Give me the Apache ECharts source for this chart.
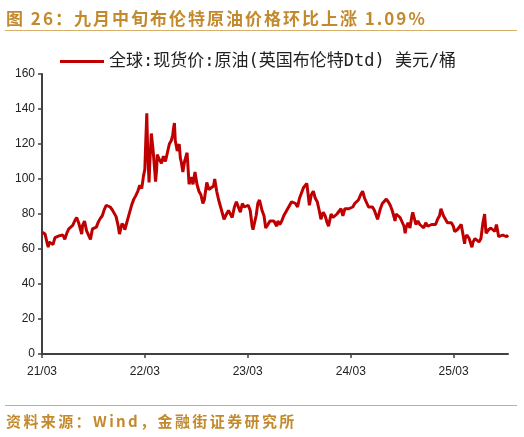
<!DOCTYPE html>
<html>
<head>
    <meta charset="utf-8">
    <title>布伦特原油价格</title>
    <script src="https://cdn.jsdelivr.net/npm/echarts@6/dist/echarts.min.js"></script>
    <style>
        html, body { margin: 0; padding: 0; background: #fff; }
        #wrap { position: relative; width: 524px; height: 437px; overflow: hidden; }
        #title {
            position: absolute; left: 6px; top: 5px;
            font: bold 17px "Noto Sans CJK SC", sans-serif; letter-spacing: 2px;
            color: #c28a2c; white-space: nowrap;
        }
        #source {
            position: absolute; left: 6px; top: 410px;
            font: bold 15px "Noto Sans CJK SC", sans-serif; letter-spacing: 2.4px;
            color: #c28a2c; white-space: nowrap;
        }
        .rule { position: absolute; left: 5px; width: 512px; height: 0; border-top: 1.5px solid #d6b06a; }
        #chart { position: absolute; left: 0; top: 0; width: 524px; height: 437px; }
    </style>
</head>
<body>
<div id="wrap">
    <div id="chart"></div>
    <div id="title">图 26：九月中旬布伦特原油价格环比上涨 1.09%</div>
    <div class="rule" style="top:30px"></div>
    <div class="rule" style="top:405px"></div>
    <div id="source">资料来源：Wind，金融街证券研究所</div>
</div>
<script type="text/javascript">
    // 布伦特Dtd现货价（美元/桶），按周读取
    var seriesName = '全球:现货价:原油(英国布伦特Dtd) 美元/桶';
    var dates = [
        '2021-03-02','2021-03-08','2021-03-12','2021-03-19','2021-03-23','2021-03-26','2021-04-02','2021-04-09','2021-04-16','2021-04-23','2021-04-30',
        '2021-05-07','2021-05-14','2021-05-21','2021-05-28','2021-06-04','2021-06-11','2021-06-18','2021-06-25','2021-07-02','2021-07-09','2021-07-16',
        '2021-07-20','2021-07-23','2021-07-30','2021-08-06','2021-08-13','2021-08-20','2021-08-27','2021-09-03','2021-09-10','2021-09-17','2021-09-24',
        '2021-10-01','2021-10-08','2021-10-15','2021-10-22','2021-10-29','2021-11-05','2021-11-12','2021-11-19','2021-11-26','2021-12-01','2021-12-10',
        '2021-12-17','2021-12-20','2021-12-31','2022-01-07','2022-01-14','2022-01-21','2022-01-28','2022-02-04','2022-02-11','2022-02-18','2022-02-24',
        '2022-03-01','2022-03-04','2022-03-08','2022-03-11','2022-03-16','2022-03-18','2022-03-24','2022-03-30','2022-04-06','2022-04-08','2022-04-12',
        '2022-04-14','2022-04-22','2022-04-29','2022-05-06','2022-05-13','2022-05-20','2022-05-27','2022-06-03','2022-06-08','2022-06-10','2022-06-14',
        '2022-06-17','2022-06-24','2022-07-01','2022-07-05','2022-07-08','2022-07-14','2022-07-20','2022-07-29','2022-08-05','2022-08-12','2022-08-19',
        '2022-08-26','2022-09-02','2022-09-09','2022-09-16','2022-09-23','2022-09-28','2022-10-07','2022-10-14','2022-10-21','2022-10-31','2022-11-04',
        '2022-11-11','2022-11-18','2022-11-25','2022-12-07','2022-12-09','2022-12-16','2022-12-23','2022-12-30','2023-01-05','2023-01-13','2023-01-20',
        '2023-01-27','2023-02-03','2023-02-10','2023-02-17','2023-02-24','2023-03-03','2023-03-10','2023-03-17','2023-03-20','2023-03-24','2023-03-31',
        '2023-04-06','2023-04-12','2023-04-21','2023-04-28','2023-05-04','2023-05-12','2023-05-19','2023-05-26','2023-06-02','2023-06-12','2023-06-16',
        '2023-06-23','2023-06-30','2023-07-07','2023-07-14','2023-07-21','2023-07-28','2023-08-04','2023-08-11','2023-08-18','2023-08-25','2023-09-01',
        '2023-09-08','2023-09-15','2023-09-22','2023-09-27','2023-10-06','2023-10-13','2023-10-20','2023-10-27','2023-11-03','2023-11-10','2023-11-16',
        '2023-11-24','2023-12-01','2023-12-08','2023-12-13','2023-12-22','2023-12-29','2024-01-05','2024-01-12','2024-01-19','2024-01-26','2024-02-02',
        '2024-02-09','2024-02-16','2024-02-23','2024-03-01','2024-03-08','2024-03-15','2024-03-22','2024-03-28','2024-04-05','2024-04-12','2024-04-19',
        '2024-04-26','2024-05-03','2024-05-10','2024-05-17','2024-05-24','2024-05-31','2024-06-04','2024-06-14','2024-06-21','2024-06-28','2024-07-05',
        '2024-07-12','2024-07-19','2024-07-26','2024-08-02','2024-08-05','2024-08-09','2024-08-16','2024-08-23','2024-08-30','2024-09-06','2024-09-10',
        '2024-09-13','2024-09-20','2024-09-27','2024-10-04','2024-10-07','2024-10-11','2024-10-18','2024-10-25','2024-11-01','2024-11-08','2024-11-15',
        '2024-11-22','2024-11-29','2024-12-06','2024-12-13','2024-12-20','2024-12-27','2025-01-03','2025-01-10','2025-01-15','2025-01-24','2025-01-31',
        '2025-02-07','2025-02-14','2025-02-21','2025-02-28','2025-03-05','2025-03-14','2025-03-21','2025-03-28','2025-04-02','2025-04-09','2025-04-11',
        '2025-04-17','2025-04-25','2025-05-05','2025-05-09','2025-05-16','2025-05-23','2025-05-30','2025-06-06','2025-06-13','2025-06-19','2025-06-24',
        '2025-06-27','2025-07-03','2025-07-11','2025-07-18','2025-07-25','2025-07-31','2025-08-08','2025-08-15','2025-08-22','2025-08-29','2025-09-05',
        '2025-09-10'
    ];
    var prices = [
        69.5,69.8,68.5,63.5,61.0,64.0,63.0,62.5,66.5,65.5,67.5,
        68.5,68.0,65.5,69.0,71.5,72.5,73.5,76.0,78.0,75.0,74.0,
        68.5,73.5,76.0,70.5,71.0,65.5,71.5,72.5,72.5,75.5,77.5,
        79.0,82.5,85.0,86.0,84.0,82.5,81.5,78.5,73.5,68.5,74.5,
        73.0,71.0,77.5,81.5,85.5,88.5,90.5,93.0,96.5,94.5,101.5,
        105.5,120.0,137.6,116.0,98.0,107.0,126.0,117.0,103.0,98.5,106.0,
        114.0,111.0,109.0,113.0,110.0,115.0,120.0,122.0,125.0,128.0,132.0,
        122.0,116.0,120.0,112.0,110.0,104.0,110.0,115.0,97.0,101.0,97.0,
        104.0,97.0,93.0,91.0,86.0,88.0,98.0,94.0,93.0,96.0,100.0,
        93.0,88.0,84.0,77.0,76.0,80.0,82.0,82.0,78.0,84.0,87.0,
        88.0,81.0,86.0,84.0,83.0,85.0,82.0,73.0,71.0,74.0,79.0,
        86.0,88.0,82.0,79.0,72.0,74.0,76.0,77.0,76.0,73.0,76.0,
        74.0,76.0,79.0,81.0,80.0,85.0,87.0,88.0,86.0,84.0,89.0,
        92.0,95.0,94.0,97.5,85.0,91.0,93.0,89.0,87.0,82.0,77.0,
        81.0,79.0,75.0,73.0,80.0,78.0,79.0,80.0,80.0,83.0,79.0,
        83.0,84.0,83.0,84.0,84.0,86.0,87.0,88.0,91.0,93.0,89.0,
        89.0,84.0,84.0,84.0,82.0,82.0,77.0,83.0,86.0,87.0,88.5,
        87.0,85.0,82.0,78.0,76.0,80.0,80.0,78.0,78.0,73.0,69.0,
        72.0,75.0,72.0,79.0,81.0,80.0,74.0,76.0,74.0,75.0,72.0,
        75.0,73.0,72.0,74.0,73.0,74.0,77.0,79.0,83.0,79.0,77.0,
        75.0,75.0,75.0,73.0,70.0,71.0,72.0,74.0,75.0,63.0,66.0,
        68.0,66.0,61.0,64.0,66.0,65.0,64.0,66.0,75.0,80.0,69.0,
        69.0,71.0,72.0,71.0,70.0,74.0,67.0,68.0,68.0,69.0,67.0,
        68.0
    ];
    var tickDates = ['2021-03-01', '2022-03-01', '2023-03-01', '2024-03-01', '2025-03-01'];

    var toTime = function (s) {
        var p = s.split('-');
        return Date.UTC(+p[0], +p[1] - 1, +p[2]);
    };
    var seriesData = dates.map(function (d, i) { return [toTime(d), prices[i]]; });
    var tickValues = tickDates.map(toTime);

    var myChart = echarts.init(document.getElementById('chart'));
    myChart.setOption({
        animation: false,
        grid: { left: 42, right: 16, top: 74, bottom: 83 },
        legend: {
            left: 55, top: 48,
            icon: 'rect', itemWidth: 44, itemHeight: 3, itemGap: 8,
            textStyle: { fontSize: 17, color: '#222', fontFamily: '"DejaVu Sans Mono", "Noto Sans CJK SC", sans-serif' },
            data: [seriesName]
        },
        xAxis: {
            type: 'value',
            min: toTime('2021-03-01'),
            max: toTime('2025-09-10'),
            axisLine: { lineStyle: { color: '#404040', width: 2 } },
            axisTick: { show: true, length: 4, customValues: tickValues, lineStyle: { color: '#404040', width: 1.5 } },
            axisLabel: {
                customValues: tickValues,
                fontSize: 12, color: '#222', margin: 12,
                fontFamily: '"Liberation Sans", Arial, sans-serif',
                formatter: function (v) {
                    var d = new Date(v);
                    var yy = String(d.getUTCFullYear()).slice(2);
                    var mm = ('0' + (d.getUTCMonth() + 1)).slice(-2);
                    return yy + '/' + mm;
                }
            },
            splitLine: { show: false }
        },
        yAxis: {
            type: 'value',
            min: 0, max: 160, interval: 20,
            axisLine: { show: true, lineStyle: { color: '#404040', width: 2 } },
            axisTick: { show: true, length: 4, lineStyle: { color: '#404040', width: 1.5 } },
            axisLabel: { fontSize: 12, color: '#222', margin: 7, fontFamily: '"Liberation Sans", Arial, sans-serif' },
            splitLine: { show: false }
        },
        series: [{
            name: seriesName,
            type: 'line',
            data: seriesData,
            showSymbol: false,
            color: '#c00000',
            lineStyle: { width: 3, color: '#c00000' }
        }]
    });
</script>
</body>
</html>
